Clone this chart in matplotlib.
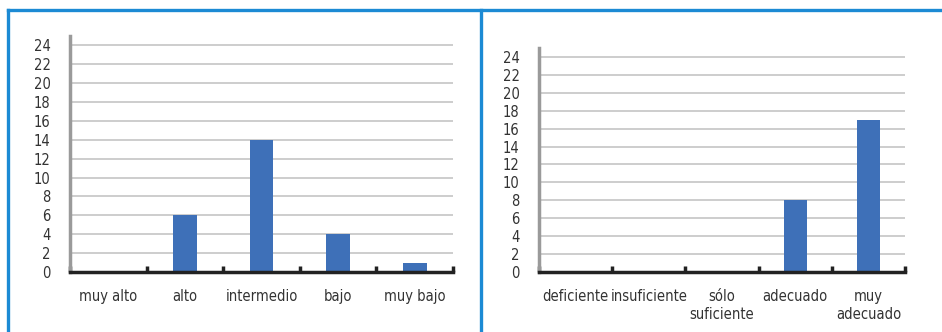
import matplotlib.pyplot as plt
import numpy as np
from matplotlib.lines import Line2D

plt.rcParams['font.family'] = ['DejaVu Sans']
plt.rcParams['font.stretch'] = 'condensed'

nivel_cats = ['muy alto', 'alto', 'intermedio', 'bajo', 'muy bajo']
nivel_vals = [0, 6, 14, 4, 1]
valor_cats = ['deficiente', 'insuficiente', 'sólo\nsuficiente', 'adecuado', 'muy\nadecuado']
valor_vals = [0, 0, 0, 8, 17]

bar_color = '#3E70B8'
border_color = '#1C8AD4'

fig = plt.figure(figsize=(9.42, 3.32), dpi=100)

def draw_panel(rect, cats, vals):
    ax = fig.add_axes(rect)
    x = np.arange(len(cats))
    ax.bar(x, vals, width=0.31, color=bar_color, zorder=3)
    ax.set_xlim(-0.5, len(cats) - 0.5)
    ax.set_ylim(0, 25)
    ax.set_yticks(np.arange(0, 25, 2))
    ax.yaxis.grid(True, color='#C9C9C9', linewidth=1.3, zorder=0)
    ax.set_xticks(x)
    ax.set_xticklabels(cats, fontsize=10.5, color='#333333', linespacing=1.25)
    ax.set_xticks(np.arange(len(cats) + 1) - 0.5, minor=True)
    ax.tick_params(axis='x', which='major', length=0, pad=12)
    ax.tick_params(axis='x', which='minor', length=4, width=2.5, direction='in', color='#222222')
    ax.tick_params(axis='y', length=0, pad=14, labelsize=10.5, labelcolor='#333333')
    for s in ['top', 'right']:
        ax.spines[s].set_visible(False)
    ax.spines['left'].set_color('#9A9A9A')
    ax.spines['left'].set_linewidth(2.5)
    ax.spines['bottom'].set_color('#222222')
    ax.spines['bottom'].set_linewidth(2.5)
    ax.spines['bottom'].set_zorder(4)
    return ax

draw_panel([70 / 942, 1 - 272 / 332, 383 / 942, 236 / 332], nivel_cats, nivel_vals)
draw_panel([539 / 942, 1 - 272 / 332, 366 / 942, 224 / 332], valor_cats, valor_vals)

# frame lines around the two panels
W, H = 942, 332
for xs, ys in [([8, W], [10, 10]), ([8, 8], [10, H]), ([481, 481], [10, H])]:
    fig.add_artist(Line2D([v / W for v in xs], [1 - v / H for v in ys],
                          color=border_color, linewidth=2.4, transform=fig.transFigure))

fig.savefig('out.png', dpi=100)
